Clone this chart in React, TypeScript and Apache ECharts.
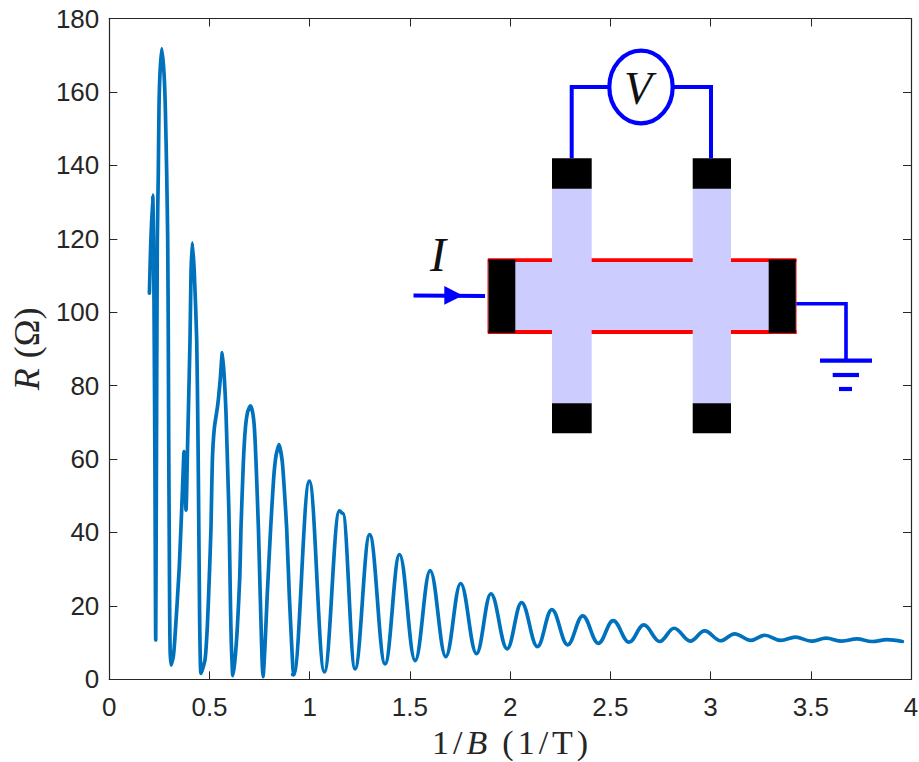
import React, { useEffect, useRef } from "react";
import * as echarts from "echarts";

// Early, irregular part of the curve, read point by point: 1/B (1/T)
const invBEarly = [
  0.2, 0.2066, 0.2166, 0.223, 0.228, 0.2315, 0.2345, 0.2395, 0.2445, 0.248, 0.253, 0.2615, 0.273, 0.2794, 0.2864,
  0.2914, 0.2944, 0.2964, 0.2994, 0.3014, 0.3034, 0.3079, 0.3194, 0.3278, 0.3493, 0.3663, 0.3728, 0.3827, 0.3912,
  0.4027, 0.4077, 0.4142, 0.4242, 0.4361, 0.4426, 0.4476, 0.4506, 0.4531, 0.4576, 0.4776, 0.489, 0.499, 0.5075,
  0.514, 0.524, 0.541, 0.554, 0.564, 0.574, 0.582, 0.5895, 0.5965, 0.601, 0.605, 0.609, 0.613, 0.616, 0.627, 0.639,
  0.651, 0.657, 0.669, 0.679, 0.69, 0.704, 0.715, 0.724, 0.732, 0.744, 0.753, 0.76, 0.7635, 0.767, 0.777, 0.788,
  0.805, 0.82, 0.832, 0.847, 0.863, 0.875, 0.885, 0.898, 0.91, 0.916, 0.92,
];
// R (Ohm) at the same points
const resistanceEarly = [
  105.2, 118.3, 131.9, 103.3, 54.3, 10.7, 48.9, 119.7, 137.8, 155.9, 165.1, 171.8, 165.1, 155.9, 137.8,
  119.7, 92.4, 65.2, 35.2, 17, 8, 3.9, 6.2, 11.6, 30.7, 53.4, 62, 46.1, 65.2,
  92.4, 110.6, 118.9, 110.6, 92.4, 65.2, 35.2, 17, 8, 1.6, 5.3, 14.3, 27.9, 41.6,
  59.3, 68.4, 74.7, 82, 89, 82, 72.9, 59.3, 46.1, 32.5, 18.9, 9.3, 3.9, 1, 5.3, 14.3,
  27.9, 41.1, 59.3, 68.4, 72.8, 74.5, 72.8, 68.4, 59.3, 41.1, 23, 9.3, 3.5, 0.7, 9.3, 23,
  41.1, 54.7, 61, 63.9, 59.3, 50.2, 41.1, 23, 9.3, 3.2, 1.3,
];
// Later oscillation: successive maxima and minima, 1/B (1/T)
const invBLate = [
  0.915, 0.92,
  0.998, 1.073, 1.148, 1.165, 1.226, 1.299, 1.376, 1.448, 1.526, 1.601, 1.679, 1.753, 1.832, 1.904, 1.985, 2.057,
  2.136, 2.208, 2.287, 2.362, 2.44, 2.514, 2.593, 2.667, 2.746, 2.818, 2.899, 2.97, 3.05, 3.12, 3.2, 3.27, 3.35,
  3.423, 3.503, 3.576, 3.655, 3.73, 3.806, 3.88, 3.957,
];
// R (Ohm) at the same extrema
const resistanceLate = [
  1.3, 1.3,
  54, 2, 45.9, 45.2, 2.8, 39.4, 4.2, 34, 5.1, 29.6, 6.2, 26.1, 7, 23.3, 8.3, 20.9,
  8.9, 19, 9.4, 17.3, 9.8, 16, 10.1, 14.8, 10.3, 13.9, 10.4, 13.2, 10.5, 12.4, 10.6, 12, 10.6,
  11.5, 10.4, 11.2, 10.4, 11, 10.3, 10.8, 10.3,
];
const xTicks = [0, 0.5, 1, 1.5, 2, 2.5, 3, 3.5, 4];
const yTicks = [0, 20, 40, 60, 80, 100, 120, 140, 160, 180];

const INK = "#262626";
const BLUE = "#0000FF";
const LILAC = "#CCCCFF";
const RED = "#FF0000";
const CURVE = "#0072BD";

const box = (x0: number, y0: number, x1: number, y1: number, fill: string) => ({
  type: "rect",
  shape: { x: x0, y: y0, width: x1 - x0, height: y1 - y0 },
  style: { fill },
  silent: true,
});
const wire = (pts: number[][], w = 3.6) => ({
  type: "polyline",
  shape: { points: pts },
  style: { stroke: BLUE, lineWidth: w, fill: "none" },
  silent: true,
});

const inset = [
  {
    type: "rect",
    shape: { x: 488, y: 259, width: 308, height: 74.5 },
    style: { fill: LILAC, stroke: RED, lineWidth: 1 },
    silent: true,
  },
  box(488, 258.5, 796.5, 262, RED),
  box(488, 330, 796.5, 334, RED),
  box(552, 188.7, 591.7, 403.3, LILAC),
  box(692.7, 188.7, 731, 403.3, LILAC),
  box(488.5, 259.5, 515.3, 333, "#000"),
  box(768.7, 259.5, 795.7, 333, "#000"),
  box(552, 158.3, 591.7, 188.7, "#000"),
  box(692.7, 158.3, 731, 188.7, "#000"),
  box(552, 403.3, 591.7, 433.3, "#000"),
  box(692.7, 403.3, 731, 433.3, "#000"),
  wire([[571.7, 158.3], [571.7, 87], [609, 87]], 4),
  wire([[673, 87], [711, 87], [711, 158.3]], 4),
  {
    type: "ellipse",
    shape: { cx: 641, cy: 87, rx: 31.7, ry: 36.3 },
    style: { fill: "none", stroke: BLUE, lineWidth: 4.2 },
    silent: true,
  },
  {
    type: "text",
    x: 638,
    y: 88,
    style: {
      text: "V",
      font: "italic 46px 'Liberation Serif'",
      fill: "#111",
      align: "center",
      verticalAlign: "middle",
    },
    silent: true,
  },
  {
    type: "text",
    x: 438,
    y: 254,
    style: {
      text: "I",
      font: "italic 48px 'Liberation Serif'",
      fill: "#111",
      align: "center",
      verticalAlign: "middle",
    },
    silent: true,
  },
  wire([[413.5, 295.5], [485, 296]], 4),
  {
    type: "polygon",
    shape: { points: [[444.3, 286], [444.3, 304.7], [462.7, 295.5]] },
    style: { fill: BLUE },
    silent: true,
  },
  wire([[796.3, 303.7], [846, 303.7], [846, 360.7]], 3.6),
  wire([[820, 360.7], [872, 360.7]], 4.2),
  wire([[832.7, 375], [859, 375]], 4.2),
  wire([[839, 389], [852, 389]], 4.2),
];

const xNameRich = {
  n: { fontFamily: "Liberation Serif", fontSize: 34, color: INK },
  i: { fontFamily: "Liberation Serif", fontSize: 34, fontStyle: "italic", color: INK },
  t: { width: 4, fontSize: 34 },
  g: { width: 15, fontSize: 34 },
};
const yNameRich = {
  n: { fontFamily: "Liberation Serif", fontSize: 36, color: INK },
  i: { fontFamily: "Liberation Serif", fontSize: 36, fontStyle: "italic", color: INK },
  g: { width: 10, fontSize: 36 },
};

export default function App() {
  const ref = useRef<HTMLDivElement>(null);
  useEffect(() => {
    document.body.style.margin = "0";
    const chart = echarts.init(ref.current!, null, { renderer: "svg" });
    const axisLine = { show: true, onZero: false, lineStyle: { color: INK, width: 1.2 } };
    const tick = { show: true, inside: true, length: 8, lineStyle: { color: INK, width: 1 } };
    const labelStyle = { fontFamily: "Liberation Sans", fontSize: 26, color: INK };
    const lineStyle = { color: CURVE, width: 3.7, join: "round", cap: "round" };
    chart.setOption({
      animation: false,
      backgroundColor: "#fff",
      grid: { left: 109.3, right: 8, top: 18.5, bottom: 82.7, containLabel: false, outerBoundsMode: "none" },
      graphic: inset,
      xAxis: [
        {
          type: "value",
          position: "bottom",
          min: xTicks[0],
          max: xTicks[xTicks.length - 1],
          interval: 0.5,
          axisLine,
          axisTick: tick,
          splitLine: { show: false },
          axisLabel: { ...labelStyle, margin: 15, formatter: (v: number) => String(v) },
          name: "{n|1}{t| }{n|/}{t| }{i|B}{g| }{n|(}{t| }{n|1}{t| }{n|/}{t| }{n|T}{t| }{n|)}",
          nameLocation: "middle",
          nameGap: 46,
          nameTextStyle: { rich: xNameRich },
        },
        {
          type: "value",
          position: "top",
          min: xTicks[0],
          max: xTicks[xTicks.length - 1],
          interval: 0.5,
          axisLine,
          axisTick: tick,
          axisLabel: { show: false },
          splitLine: { show: false },
        },
      ],
      yAxis: [
        {
          type: "value",
          position: "left",
          min: yTicks[0],
          max: yTicks[yTicks.length - 1],
          interval: 20,
          axisLine,
          axisTick: tick,
          splitLine: { show: false },
          axisLabel: { ...labelStyle, margin: 10 },
          name: "{i|R}{g| }{n|(Ω)}",
          nameLocation: "middle",
          nameGap: 64,
          nameRotate: 90,
          nameTextStyle: { rich: yNameRich },
        },
        {
          type: "value",
          position: "right",
          min: yTicks[0],
          max: yTicks[yTicks.length - 1],
          interval: 20,
          axisLine,
          axisTick: tick,
          axisLabel: { show: false },
          splitLine: { show: false },
        },
      ],
      series: [
        {
          type: "line",
          data: invBEarly.map((x, i) => [x, resistanceEarly[i]]),
          showSymbol: false,
          smooth: 0.2,
          lineStyle,
          clip: false,
        },
        {
          type: "line",
          data: invBLate.map((x, i) => [x, resistanceLate[i]]),
          showSymbol: false,
          smooth: 0.38,
          smoothMonotone: "x",
          lineStyle,
          clip: false,
        },
      ],
    });
    return () => chart.dispose();
  }, []);
  return <div ref={ref} style={{ position: "absolute", left: 0, top: 0, width: 919, height: 762 }} />;
}
